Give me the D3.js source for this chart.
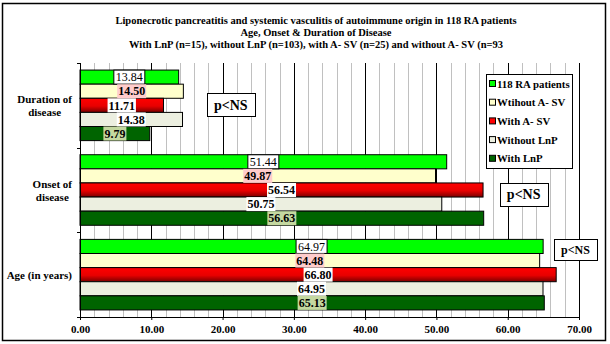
<!DOCTYPE html>
<html>
<head>
<meta charset="utf-8">
<script src="https://cdn.jsdelivr.net/npm/d3@7"></script>
<style>
  html, body { margin: 0; padding: 0; background: #fff; }
  svg { display: block; font-family: "Liberation Serif", "Times New Roman", serif; }
</style>
</head>
<body>
<svg id="chart" width="610" height="344"></svg>
<script>
// ---------- data ----------
const titleLines = [
  "Liponecrotic pancreatitis and systemic vasculitis of autoimmune origin in 118 RA patients",
  "Age, Onset & Duration of Disease",
  "With LnP  (n=15), without LnP (n=103), with A- SV (n=25) and without A- SV (n=93"
];
const categories = ["Duration of disease", "Onset of disease", "Age (in years)"];
const categoryLines = [["Duration of", "disease"], ["Onset of", "disease"], ["Age (in years)"]];
const seriesNames = ["118 RA patients", "Wtihout A- SV", "With A- SV", "Without LnP", "With LnP"];
const ra118      = [13.84, 51.44, 64.97];
const withoutASV = [14.50, 49.87, 64.48];
const withASV    = [11.71, 56.54, 66.80];
const withoutLnP = [14.38, 50.75, 64.95];
const withLnP    = [9.79, 56.63, 65.13];
const xTicks = [0, 10, 20, 30, 40, 50, 60, 70];
const pLabels = ["p<NS", "p<NS", "p<NS"];

const seriesValues = [ra118, withoutASV, withASV, withoutLnP, withLnP];

// ---------- styles ----------
const barFill = ["#00ff00", "#ffffcc", "url(#redGrad)", "#ecefe0", "#006400"];
const legendFill = ["#00ff00", "#ffffcc", "#ff0000", "#ecefe0", "#006400"];
const lblBg = ["#ffffff", "#ffcccc", "#ffffff", "#ffffff", "#c4d8a0"];
const lblStroke = ["#000", "none", "none", "none", "none"];
const lblWeight = ["normal", "bold", "bold", "bold", "bold"];
// p-box placement (x in data units, y offset from band centre, font size)
const pBoxX = [17.8, 58.9, 66.5];
const pBoxDy = [-0.5, 4, -25];
const pBoxSize = [14, 14, 12];

const svg = d3.select("#chart");
const defs = svg.append("defs");
const g1 = defs.append("linearGradient").attr("id", "redGrad")
  .attr("x1", 0).attr("y1", 0).attr("x2", 0).attr("y2", 1);
g1.append("stop").attr("offset", "0%").attr("stop-color", "#ff0000");
g1.append("stop").attr("offset", "55%").attr("stop-color", "#e80000");
g1.append("stop").attr("offset", "100%").attr("stop-color", "#7a0000");

// outer border
svg.append("rect").attr("x", 2.5).attr("y", 3.5).attr("width", 603).attr("height", 337)
  .attr("fill", "#fff").attr("stroke", "#000").attr("stroke-width", 1.5);

// title
svg.append("g").selectAll("text").data(titleLines).join("text")
  .attr("x", 316).attr("y", (d, i) => 24 + i * 12)
  .attr("text-anchor", "middle").attr("font-size", 10.5).attr("font-weight", "bold")
  .text(d => d);

const L = 80, R = 579, T = 63, B = 317;
const x = d3.scaleLinear().domain([0, 70]).range([L, R]);
const y = d3.scaleBand().domain(categories).range([T, B]).padding(0);
const yi = d3.scaleBand().domain(d3.range(seriesNames.length)).range([0, y.bandwidth()])
  .paddingInner(0).paddingOuter(0.5);

// gridlines
const minor = d3.range(0, 71, 2).filter(v => v % 10 !== 0);
svg.append("g").selectAll("line").data(minor).join("line")
  .attr("x1", d => Math.round(x(d)) + 0.5).attr("x2", d => Math.round(x(d)) + 0.5)
  .attr("y1", T).attr("y2", B).attr("stroke", "#c0c0c0").attr("stroke-width", 1);
svg.append("g").selectAll("line").data(xTicks.slice(1)).join("line")
  .attr("x1", d => Math.round(x(d)) + 0.5).attr("x2", d => Math.round(x(d)) + 0.5)
  .attr("y1", T).attr("y2", B).attr("stroke", "#000").attr("stroke-width", 1);

// bars
const flat = [];
categories.forEach((c, ci) => seriesValues.forEach((arr, si) => flat.push({ c, ci, si, v: arr[ci] })));
svg.append("g").selectAll("rect").data(flat).join("rect")
  .attr("x", x(0)).attr("y", d => y(d.c) + yi(d.si))
  .attr("width", d => x(d.v) - x(0)).attr("height", yi.bandwidth())
  .attr("fill", d => barFill[d.si]).attr("stroke", "#000").attr("stroke-width", 1);

// data labels
const lg = svg.append("g");
flat.forEach(d => {
  const cx = x(d.v / 2), cy = y(d.c) + yi(d.si) + yi.bandwidth() / 2;
  const grp = lg.append("g");
  const rect = grp.append("rect");
  const t = grp.append("text").attr("x", cx).attr("y", cy + 4.2)
    .attr("text-anchor", "middle").attr("font-size", 12).attr("font-weight", lblWeight[d.si])
    .text(d.v.toFixed(2));
  const w = t.node().getComputedTextLength();
  const pad = d.si === 0 ? 2 : 1;
  rect.attr("x", cx - w / 2 - pad).attr("y", cy - 7).attr("width", w + 2 * pad).attr("height", 14)
    .attr("fill", lblBg[d.si]).attr("stroke", lblStroke[d.si]).attr("stroke-width", 1);
});

// axes
const xa = svg.append("g").attr("transform", `translate(0,${B})`)
  .call(d3.axisBottom(x).tickValues(xTicks).tickFormat(d3.format(".2f")).tickSize(3).tickPadding(5));
xa.select(".domain").attr("stroke", "#000");
xa.selectAll("text").attr("font-family", "Liberation Serif").attr("font-size", 11)
  .attr("font-weight", "bold").attr("fill", "#000");

const bounds = [T].concat(categories.map(c => y(c) + y.bandwidth()));
const ya = svg.append("g");
ya.append("line").attr("x1", L + 0.5).attr("x2", L + 0.5).attr("y1", T).attr("y2", B).attr("stroke", "#000");
ya.selectAll("line.t").data(bounds).join("line").attr("class", "t")
  .attr("x1", L - 3).attr("x2", L).attr("y1", d => Math.round(d) + 0.5).attr("y2", d => Math.round(d) + 0.5)
  .attr("stroke", "#000");

// category labels: block right-aligned near axis, lines centred in block
categories.forEach((c, ci) => {
  const lines = categoryLines[ci];
  const cy = y(c) + y.bandwidth() / 2;
  const texts = lines.map((ln, li) => svg.append("text")
    .attr("y", cy + (li - (lines.length - 1) / 2) * 13 + 4)
    .attr("text-anchor", "middle").attr("font-size", 11).attr("font-weight", "bold").text(ln));
  const maxW = d3.max(texts, t => t.node().getComputedTextLength());
  texts.forEach(t => t.attr("x", 72 - maxW / 2));
});

// p-value boxes
categories.forEach((c, ci) => {
  const cy = y(c) + y.bandwidth() / 2 + pBoxDy[ci];
  const fs = pBoxSize[ci];
  const t = svg.append("text").attr("font-size", fs).attr("font-weight", "bold").text(pLabels[ci]);
  const w = t.node().getComputedTextLength();
  const bx = x(pBoxX[ci]);
  const bw = w + 14, bh = fs + 9;
  svg.insert("rect", () => t.node()).attr("x", Math.round(bx) + 0.5).attr("y", Math.round(cy - bh / 2) + 0.5)
    .attr("width", Math.round(bw)).attr("height", Math.round(bh))
    .attr("fill", "#fff").attr("stroke", "#000");
  t.attr("x", bx + bw / 2).attr("y", cy + fs * 0.35).attr("text-anchor", "middle");
});

// legend
const leg = svg.append("g");
leg.append("rect").attr("x", 486.5).attr("y", 74.5).attr("width", 86).attr("height", 94)
  .attr("fill", "#fff").attr("stroke", "#000");
seriesNames.forEach((s, i) => {
  const cy = 84 + i * 18.7;
  leg.append("rect").attr("x", 489.5).attr("y", cy - 3.5).attr("width", 6).attr("height", 6)
    .attr("fill", legendFill[i]).attr("stroke", "#000");
  leg.append("text").attr("x", 497).attr("y", cy + 3.5).attr("font-size", 10.8).attr("font-weight", "bold").text(s);
});
</script>
</body>
</html>
